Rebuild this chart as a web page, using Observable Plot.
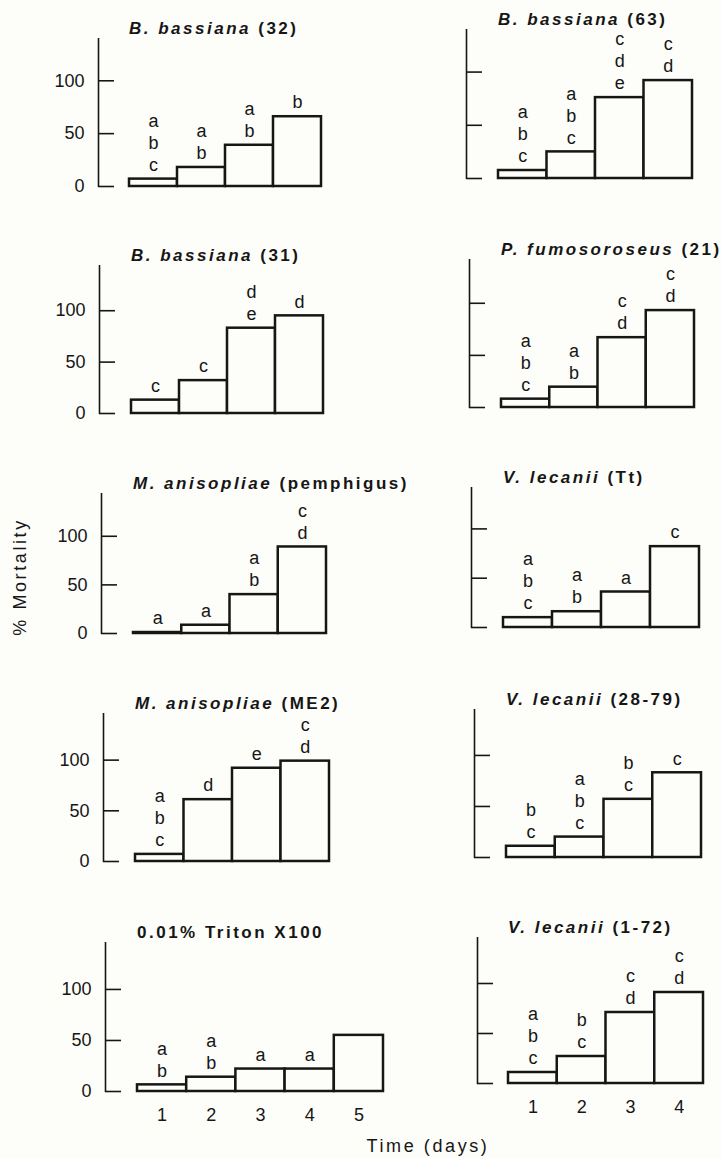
<!DOCTYPE html>
<html>
<head>
<meta charset="utf-8">
<script src="https://cdn.jsdelivr.net/npm/d3@7"></script>
<script src="https://cdn.jsdelivr.net/npm/@observablehq/plot@0.6"></script>
<style>
  html, body { margin: 0; padding: 0; background: #fdfdf9; }
  #page { position: relative; width: 722px; height: 1158px; overflow: hidden;
          font-family: "Liberation Sans", Arial, Helvetica, sans-serif; color: #161616; }
  .panel-title { position: absolute; font-weight: bold; font-size: 17px; letter-spacing: 2.5px;
                 white-space: nowrap; line-height: 20px; }
  .panel-title i { font-style: italic; }
  .axis-label { position: absolute; font-size: 18px; letter-spacing: 2.6px; white-space: nowrap; line-height: 16px; }
  .panel svg { position: absolute; overflow: visible; background: transparent; }
</style>
</head>
<body>
<div id="page"></div>
<script>
// Cumulative % mortality per day, one panel per fungal isolate / control
const species = ["B. bassiana", "B. bassiana", "B. bassiana", "P. fumosoroseus",
                 "M. anisopliae", "V. lecanii", "M. anisopliae", "V. lecanii", "", "V. lecanii"];
const strains = ["(32)", "(63)", "(31)", "(21)", "(pemphigus)", "(Tt)",
                 "(ME2)", "(28-79)", "0.01% Triton X100", "(1-72)"];

const mortality32 = [7, 18, 39, 66];
const mortality63 = [7.5, 25, 76, 92];
const mortality31 = [13, 32, 83, 95];
const mortality21 = [8, 19.5, 67, 93];
const mortalityPemphigus = [1, 8.5, 40, 89];
const mortalityTt = [10, 16, 36, 82];
const mortalityME2 = [7, 61, 92, 99];
const mortality2879 = [11, 20, 57, 83];
const mortalityTriton = [6.5, 14, 22, 22, 55];
const mortality172 = [11, 27, 71, 91];

// Significance groupings printed above each bar (top to bottom)
const letters32 = ["abc", "ab", "ab", "b"];
const letters63 = ["abc", "abc", "cde", "cd"];
const letters31 = ["c", "c", "de", "d"];
const letters21 = ["abc", "ab", "cd", "cd"];
const lettersPemphigus = ["a", "a", "ab", "cd"];
const lettersTt = ["abc", "ab", "a", "c"];
const lettersME2 = ["abc", "d", "e", "cd"];
const letters2879 = ["bc", "abc", "bc", "c"];
const lettersTriton = ["ab", "ab", "a", "a", ""];
const letters172 = ["abc", "bc", "cd", "cd"];

const yTicks = [0, 50, 100];
const yLabel = "% Mortality";
const xLabel = "Time (days)";

const seriesValues = [mortality32, mortality63, mortality31, mortality21, mortalityPemphigus,
                      mortalityTt, mortalityME2, mortality2879, mortalityTriton, mortality172];
const seriesLetters = [letters32, letters63, letters31, letters21, lettersPemphigus,
                       lettersTt, lettersME2, letters2879, lettersTriton, letters172];

// Page geometry of each panel: axis line x, axis top, zero line, bar extent, y max
const layout = [
  {ax: 98,  top: 38,  zero: 186,  barL: 129, barR: 321, ymax: 140, labels: true,  days: false},
  {ax: 466, top: 29,  zero: 178,  barL: 498, barR: 692, ymax: 140, labels: false, days: false},
  {ax: 99,  top: 265, zero: 413,  barL: 131, barR: 323, ymax: 144, labels: true,  days: false},
  {ax: 469, top: 259, zero: 407,  barL: 501, barR: 694, ymax: 142, labels: false, days: false},
  {ax: 101, top: 493, zero: 633,  barL: 133, barR: 326, ymax: 144, labels: true,  days: false},
  {ax: 471, top: 487, zero: 627,  barL: 503, barR: 699, ymax: 142, labels: false, days: false},
  {ax: 103, top: 713, zero: 861,  barL: 135, barR: 329, ymax: 146, labels: true,  days: false},
  {ax: 474, top: 709, zero: 857,  barL: 506, barR: 701, ymax: 145, labels: false, days: false},
  {ax: 105, top: 942, zero: 1091, barL: 137, barR: 383, ymax: 146, labels: true,  days: true},
  {ax: 477, top: 937, zero: 1083, barL: 508, barR: 703, ymax: 146, labels: false, days: true}
];

const ink = "#161616";
const paper = "#fdfdf9";
const page = document.getElementById("page");

layout.forEach((L, p) => {
  const values = seriesValues[p];
  const groups = seriesLetters[p];
  const n = values.length;
  const bars = values.map((v, i) => ({day: i + 1, value: v}));
  const letterRows = [];
  groups.forEach((g, i) => {
    [...g].forEach((ch, j) => letterRows.push({day: i + 1, value: values[i], ch, k: g.length - 1 - j}));
  });

  const barW = (L.barR - L.barL) / n;
  const x0 = 0.5 - (L.barL - L.ax) / barW;
  const mL = 64, mR = 6, mT = 4, mB = L.days ? 36 : 6;
  const width = mL + (L.barR - L.ax) + mR;
  const height = mT + (L.zero - L.top) + mB;

  const marks = [
    Plot.ruleX([x0], {stroke: ink, strokeWidth: 1.6, insetBottom: -1}),
    Plot.ruleY(yTicks, {x1: x0, x2: x0 + 16 / barW, stroke: ink, strokeWidth: 1.6}),
    Plot.rect(bars, {x1: d => d.day - 0.5, x2: d => d.day + 0.5, y1: 0, y2: "value",
                     fill: paper, stroke: ink, strokeWidth: 2.5})
  ];
  for (let k = 0; k < 3; k++) {
    marks.push(Plot.text(letterRows.filter(d => d.k === k), {
      x: "day", y: "value", text: "ch", dy: -(14 + 22 * k),
      fontSize: 18, fill: ink
    }));
  }
  if (L.labels) {
    marks.push(Plot.text(yTicks, {x: x0, y: d => d, text: d => String(d), textAnchor: "end",
                                  dx: -14, fontSize: 18, fill: ink}));
  }
  if (L.days) {
    marks.push(Plot.text(bars, {x: "day", y: 0, text: d => String(d.day), dy: 24,
                                fontSize: 18, fill: ink}));
  }

  const chart = Plot.plot({
    width, height,
    marginLeft: mL, marginRight: mR, marginTop: mT, marginBottom: mB,
    x: {domain: [x0, n + 0.5], axis: null},
    y: {domain: [0, L.ymax], axis: null},
    style: {fontFamily: '"Liberation Sans", Arial, sans-serif', background: "transparent", overflow: "visible"},
    marks
  });

  const panel = document.createElement("div");
  panel.className = "panel";
  chart.style.left = (L.ax - mL) + "px";
  chart.style.top = (L.top - mT) + "px";
  panel.appendChild(chart);

  const title = document.createElement("div");
  title.className = "panel-title";
  title.style.left = L.barL + "px";
  title.style.top = (L.top - 9 - 10) + "px";
  if (species[p]) {
    const it = document.createElement("i");
    it.textContent = species[p];
    title.appendChild(it);
    title.appendChild(document.createTextNode(" " + strains[p]));
  } else {
    title.textContent = strains[p];
  }
  panel.appendChild(title);
  page.appendChild(panel);
});

// Shared axis titles
const yl = document.createElement("div");
yl.className = "axis-label";
yl.textContent = yLabel;
yl.style.left = "20px";
yl.style.top = "577px";
yl.style.transform = "translate(-50%, -50%) rotate(-90deg)";
page.appendChild(yl);

const xl = document.createElement("div");
xl.className = "axis-label";
xl.textContent = xLabel;
xl.style.left = "428px";
xl.style.top = "1146px";
xl.style.transform = "translate(-50%, -50%)";
page.appendChild(xl);
</script>
</body>
</html>
